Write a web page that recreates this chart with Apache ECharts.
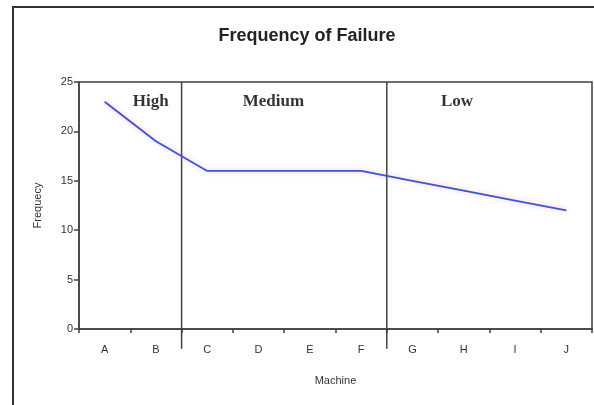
<!DOCTYPE html>
<html>
<head>
<meta charset="utf-8">
<script src="https://cdn.jsdelivr.net/npm/echarts@6/dist/echarts.min.js"></script>
<style>
  html, body { margin: 0; padding: 0; background: #fff; }
  #chart { width: 594px; height: 405px; }
</style>
</head>
<body>
<div id="chart"></div>
<script>
// ---- data ----
const machines = ['A', 'B', 'C', 'D', 'E', 'F', 'G', 'H', 'I', 'J'];
const frequency = [23, 19, 16, 16, 16, 16, 15, 14, 13, 12];
const yTicks = [0, 5, 10, 15, 20, 25];
// section boundaries (in machine-slot units, 0..10)
const dividers = [2, 6];
// section labels with their position (slot units, frequency units)
const sectionNames = ['High', 'Medium', 'Low'];
const sectionX = [1.4, 3.79, 7.37];
const sectionY = [23, 23, 23];

const chart = echarts.init(document.getElementById('chart'), null, { renderer: 'canvas' });

const axisColor = '#404040';
const textColor = '#333';

const dividerSeries = dividers.map(d => ({
  type: 'line',
  xAxisIndex: 1,
  yAxisIndex: 0,
  data: [[d, -2], [d, yTicks[yTicks.length - 1]]],
  symbol: 'none',
  clip: false,
  silent: true,
  lineStyle: { color: axisColor, width: 1.5 },
  z: 3
}));

const option = {
  backgroundColor: '#fff',
  animation: false,
  title: {
    text: 'Frequency of Failure',
    left: 302,
    textAlign: 'center',
    top: 22,
    textStyle: { fontFamily: 'Liberation Sans', fontWeight: 'bold', fontSize: 18, color: '#222' }
  },
  graphic: [{
    type: 'rect',
    shape: { x: 13, y: 7, width: 620, height: 440 },
    style: { fill: 'none', stroke: '#333', lineWidth: 2 },
    silent: true,
    z: 0
  }],
  grid: {
    left: 79, right: 2, top: 82, bottom: 76,
    show: true,
    borderColor: axisColor,
    borderWidth: 1.5,
    backgroundColor: 'transparent'
  },
  xAxis: [{
    type: 'category',
    data: machines,
    boundaryGap: true,
    name: 'Machine',
    nameLocation: 'middle',
    nameGap: 46,
    nameTextStyle: { fontFamily: 'Liberation Sans', fontSize: 11, color: textColor },
    axisLine: { lineStyle: { color: axisColor, width: 1.5 } },
    axisTick: { show: true, length: 4, lineStyle: { color: axisColor, width: 1.5 } },
    axisLabel: { margin: 15, fontFamily: 'Liberation Sans', fontSize: 11, color: textColor },
    splitLine: { show: false }
  }, {
    type: 'value',
    min: 0,
    max: machines.length,
    show: false,
    position: 'bottom'
  }],
  yAxis: {
    type: 'value',
    min: 0,
    max: 25,
    interval: 5,
    name: 'Frequecy',
    nameLocation: 'middle',
    nameGap: 36,
    nameRotate: 90,
    nameTextStyle: { fontFamily: 'Liberation Sans', fontSize: 11, color: textColor },
    axisLine: { show: true, lineStyle: { color: axisColor, width: 1.5 } },
    axisTick: { show: true, length: 5, lineStyle: { color: axisColor, width: 1.5 } },
    axisLabel: { margin: 6, fontFamily: 'Liberation Sans', fontSize: 11, color: textColor },
    splitLine: { show: false }
  },
  series: [{
    type: 'line',
    data: frequency,
    symbol: 'none',
    lineStyle: {
      color: '#3558cc',
      width: 1.8,
      shadowColor: 'rgba(255, 120, 170, 0.55)',
      shadowBlur: 5
    },
    z: 4
  }].concat(dividerSeries).concat([{
    type: 'scatter',
    xAxisIndex: 1,
    yAxisIndex: 0,
    data: sectionNames.map((n, i) => ({ value: [sectionX[i], sectionY[i]], name: n })),
    symbolSize: 0,
    silent: true,
    itemStyle: { color: '#000' },
    label: {
      show: true,
      position: 'inside',
      formatter: p => p.name,
      fontFamily: 'Liberation Serif',
      fontWeight: 'bold',
      fontSize: 17,
      color: '#000'
    },
    z: 5
  }])
};

chart.setOption(option);
</script>
</body>
</html>
